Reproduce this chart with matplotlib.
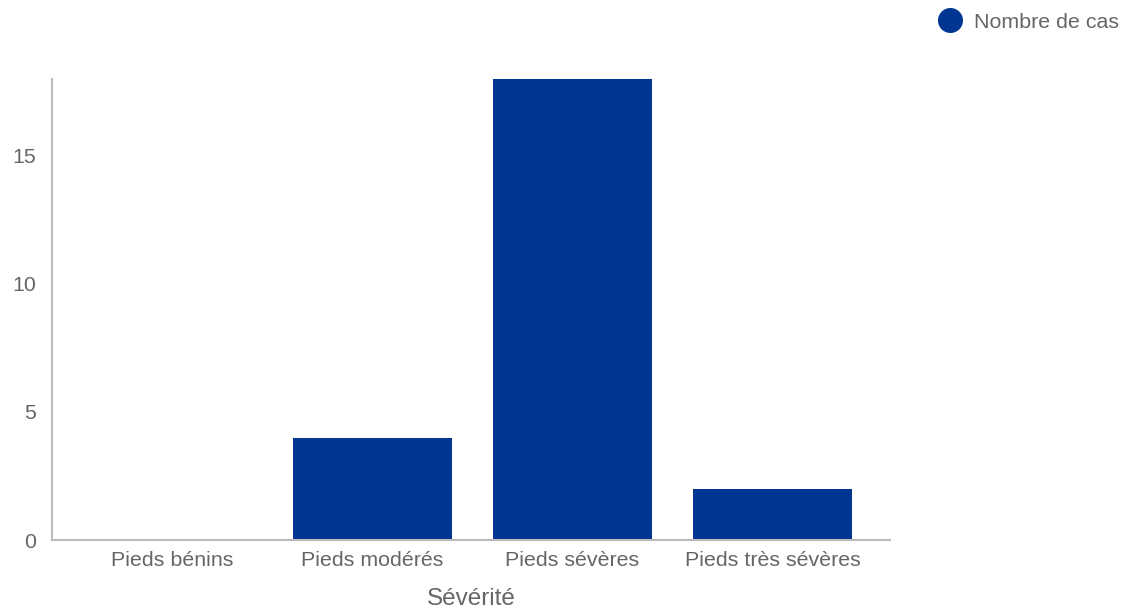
import matplotlib.pyplot as plt
from matplotlib.lines import Line2D
import numpy as np

categories = ['Pieds bénins', 'Pieds modérés', 'Pieds sévères', 'Pieds très sévères']
cases = [0, 4, 18, 2]
yticks = [0, 5, 10, 15]

bar_color = '#003591'
text_color = '#666666'
axis_color = '#bbbbbb'

plt.rcParams['font.family'] = ['Liberation Sans', 'DejaVu Sans']

fig = plt.figure(figsize=(11.27, 6.10), dpi=100)
ax = fig.add_axes([52/1127, 70/610, (890-52)/1127, (540-79)/610])

x = np.arange(len(categories))
ax.bar(x, cases, width=0.795, color=bar_color, label='Nombre de cas')

ax.set_xlim(-0.6025, 3.5875)
ax.set_ylim(0, 18)
ax.set_yticks(yticks)
ax.set_xticks(x)
ax.set_xticklabels(categories)
ax.tick_params(axis='both', length=0, labelsize=15.4, colors=text_color)
ax.tick_params(axis='y', pad=11.5)
ax.tick_params(axis='x', pad=8)

for s in ['top', 'right']:
    ax.spines[s].set_visible(False)
for s in ['left', 'bottom']:
    ax.spines[s].set_color(axis_color)
    ax.spines[s].set_linewidth(1.5)

ax.set_xlabel('Sévérité', fontsize=17.5, color=text_color, labelpad=13)

handle = Line2D([], [], marker='o', linestyle='none', markersize=17,
                markerfacecolor=bar_color, markeredgecolor=bar_color)
fig.legend([handle], ['Nombre de cas'], loc='upper right',
           bbox_to_anchor=(1.004, 1.0), frameon=False, fontsize=15.4,
           labelcolor=text_color, handletextpad=0.1, borderaxespad=0.2)

fig.savefig('out.png', dpi=100)
